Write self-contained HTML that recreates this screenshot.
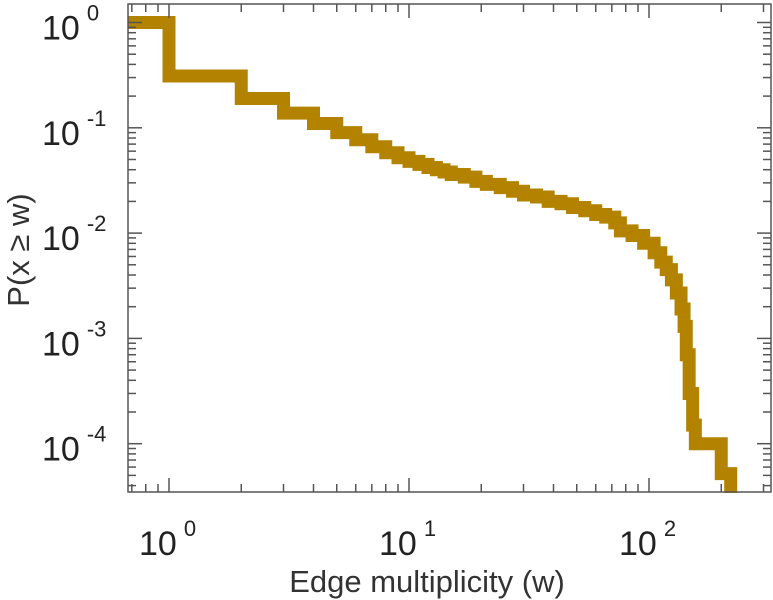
<!DOCTYPE html>
<html><head><meta charset="utf-8"><style>
body{margin:0;background:#fff}
svg{display:block;font-family:"Liberation Sans",sans-serif}
</style></head><body>
<svg id="chart" width="773" height="600" viewBox="0 0 773 600">
<g id="marks"></g>
<g id="axes"></g>
<text x="427" y="592" font-size="31" text-anchor="middle" fill="#333">Edge multiplicity (w)</text>
<text transform="translate(29,250) rotate(-90)" font-size="31" text-anchor="middle" fill="#333">P(x ≥ w)</text>
</svg>
<script>
// step locations w and CCDF level just after each step (level before first step = 1)
const wValues=[1,2,3,4,5,6,7,8,9,10,11,12,13,14,15,17,19,21,24,27,30,34,38,43,48,54,60,66,72,76,85,95,105,112,118,124,130,136,140,143,147,152,156,200];
const pValues=[0.31,0.19,0.138,0.11,0.09,0.077,0.066,0.058,0.052,0.048,0.045,0.042,0.040,0.038,0.036,0.034,0.031,0.029,0.027,0.025,0.023,0.022,0.020,0.019,0.0175,0.0163,0.015,0.0142,0.0125,0.0105,0.0095,0.008,0.0065,0.0053,0.0045,0.0036,0.0027,0.0019,0.0013,0.0007,0.0003,0.00015,0.0001,0.000052];
const wMax=219;
const xTickExps=[0,1,2];
const yTickExps=[0,-1,-2,-3,-4];
const L=128,R=771,T=4,B=492;
const x=w=>169+240*Math.log10(w);
const y=p=>22.5-105.3*Math.log10(p);
const ns="http://www.w3.org/2000/svg";
function mk(t,a,parent){const e=document.createElementNS(ns,t);for(const k in a)e.setAttribute(k,a[k]);parent.appendChild(e);return e;}
const marks=document.getElementById('marks'),axes=document.getElementById('axes');
let prev=1;
let d="M"+L+","+y(prev);
for(let i=0;i<wValues.length;i++){
  const xx=x(wValues[i]);
  d+=" L"+xx+","+y(prev)+" L"+xx+","+y(pValues[i]);
  prev=pValues[i];
}
d+=" L"+x(wMax)+","+y(prev)+" L"+x(wMax)+","+(B+10);
const line=mk('path',{d:d,fill:'none',stroke:'#b38300','stroke-width':13,'stroke-linejoin':'miter'},marks);


mk('rect',{x:0,y:B+1,width:773,height:20,fill:'#fff'},marks);
const frame=mk('rect',{x:L,y:T,width:R-L,height:B-T,fill:'none',stroke:'#555','stroke-width':1.5},axes);


for(let e=-1;e<=2;e++){for(let m=1;m<10;m++){const xx=x(m*Math.pow(10,e));if(xx<L||xx>R)continue;const len=m==1?14:8;
 mk('line',{x1:xx,y1:B,x2:xx,y2:B-len,stroke:'#555','stroke-width':1.5},axes);
 mk('line',{x1:xx,y1:T,x2:xx,y2:T+len,stroke:'#555','stroke-width':1.5},axes);}}
for(let e=-5;e<=0;e++){for(let m=1;m<10;m++){const yy=y(m*Math.pow(10,e));if(yy<T||yy>B)continue;const len=m==1?14:8;
 mk('line',{x1:L,y1:yy,x2:L+len,y2:yy,stroke:'#555','stroke-width':1.5},axes);
 mk('line',{x1:R,y1:yy,x2:R-len,y2:yy,stroke:'#555','stroke-width':1.5},axes);}}
xTickExps.forEach(e=>{const t=mk('text',{x:x(Math.pow(10,e))-30,y:555,'font-size':34,fill:'#222'},axes);
 
 
 t.innerHTML='10<tspan dx="7" dy="-19" font-size="22">'+e+'</tspan>';});
yTickExps.forEach(e=>{const t=mk('text',{x:42,y:y(Math.pow(10,e))+17,'font-size':34,fill:'#222'},axes);
 
 
 t.innerHTML='10<tspan dx="7" dy="-19" font-size="22">'+e+'</tspan>';});
</script>
</body></html>
